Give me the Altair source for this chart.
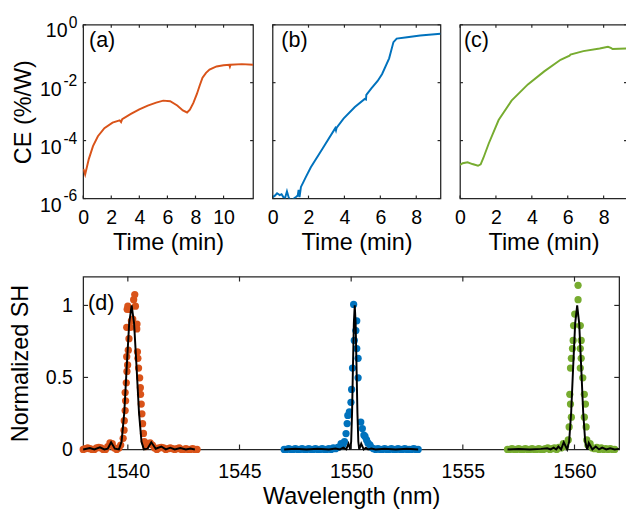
import altair as alt
import pandas as pd

ORANGE, BLUE, GREEN = "#D95319", "#0072BD", "#77AC30"
FONT = "Liberation Sans"
FRAME = "#262626"

# ---------------- top panels: CE (%/W) vs time (log10 of CE)
time_a = [0.02, 0.14, 0.4, 0.7, 1.05, 1.51, 2.09, 2.6, 2.7, 2.78, 3.4, 4.0, 4.6, 5.2, 5.7,
          6.2, 6.7, 7.1, 7.4, 7.6, 7.85, 8.1, 8.3, 8.5, 8.75, 9.0, 9.5, 10.0, 10.4, 10.45,
          10.5, 11.3, 12.1]
log_ce_a = [-4.98, -5.17, -4.64, -4.19, -3.85, -3.57, -3.38, -3.3, -3.36, -3.26, -3.08, -2.92,
            -2.79, -2.69, -2.62, -2.64, -2.79, -2.96, -3.03, -2.93, -2.7, -2.39, -2.1, -1.83,
            -1.66, -1.55, -1.44, -1.4, -1.38, -1.45, -1.38, -1.36, -1.38]

time_b = [0.0, 0.13, 0.25, 0.4, 0.5, 0.6, 0.7, 0.8, 0.9, 1.0, 1.15, 1.3, 1.4, 1.45, 1.5, 1.58,
          1.7, 1.85, 2.13, 2.76, 3.49, 3.53, 3.57, 3.95, 4.58, 5.13, 5.2, 5.22, 5.5, 5.85, 6.1,
          6.49, 6.73, 6.91, 7.49, 8.22, 9.35]
log_ce_b = [-5.95, -5.9, -5.82, -5.88, -5.85, -5.95, -5.97, -5.75, -5.97, -6.05, -6.02, -5.95,
            -5.9, -5.7, -5.95, -5.6, -5.45, -5.26, -4.92, -4.3, -3.57, -3.65, -3.55, -3.24,
            -2.84, -2.56, -2.58, -2.42, -2.2, -1.94, -1.7, -1.16, -0.6, -0.48, -0.43, -0.37,
            -0.31]

time_c = [0.0, 0.15, 0.42, 0.69, 1.0, 1.15, 1.3, 1.6, 2.15, 2.87, 3.78, 4.69, 5.6, 6.1, 6.15,
          6.87, 7.78, 8.24, 8.4, 8.5, 9.27]
log_ce_c = [-4.84, -4.78, -4.75, -4.81, -4.87, -4.82, -4.6, -4.1, -3.29, -2.62, -2.06, -1.61,
            -1.21, -1.07, -1.03, -0.91, -0.82, -0.76, -0.8, -0.84, -0.82]

decade_ce = [1.0, 1e-2, 1e-4, 1e-6]
decade_exp = ["0", "-2", "-4", "-6"]
time_ticks_a = [0, 2, 4, 6, 8, 10]
time_ticks_bc = [0, 2, 4, 6, 8]

# ---------------- bottom panel: normalized SH vs wavelength
orange_base_wl = [1538.0, 1538.1, 1538.2, 1538.3, 1538.4, 1538.5, 1538.6, 1538.7, 1538.8, 1538.9,
                  1539.0, 1539.1, 1539.2, 1539.3, 1539.4, 1539.5, 1539.6,
                  1540.8, 1540.9, 1541.0, 1541.1, 1541.2, 1541.3, 1541.4, 1541.5, 1541.6, 1541.7,
                  1541.8, 1541.9, 1542.0, 1542.1, 1542.2, 1542.3, 1542.4, 1542.5, 1542.6, 1542.7,
                  1542.8, 1542.9, 1543.0, 1543.1]
orange_base_v = [0.0, 0.005, 0.01, 0.005, 0.0, 0.0, 0.01, 0.015, 0.01, 0.0,
                 0.0, 0.02, 0.045, 0.04, 0.01, 0.0, 0.01,
                 0.02, 0.04, 0.045, 0.03, 0.01, 0.0, 0.01, 0.015, 0.01, 0.0,
                 0.005, 0.01, 0.005, 0.0, 0.005, 0.01, 0.0, 0.0, 0.005, 0.0,
                 0.0, 0.005, 0.0, 0.0]
orange_peak_wl = [1539.68, 1539.79, 1539.83, 1539.84, 1539.88, 1539.9, 1539.88, 1539.93, 1539.96,
                  1539.99, 1539.95, 1540.02, 1540.05, 1539.95, 1539.97, 1540.0, 1540.08, 1540.16,
                  1540.12, 1540.22, 1540.26, 1540.31, 1540.34, 1540.41, 1540.4, 1540.43, 1540.45,
                  1540.48, 1540.53, 1540.56, 1540.57, 1540.6, 1540.63, 1540.66, 1540.7, 1540.74]
orange_peak_v = [0.03, 0.077, 0.134, 0.2, 0.27, 0.338, 0.395, 0.463, 0.542, 0.587, 0.644, 0.689,
                 0.769, 0.848, 0.973, 0.995, 0.973, 0.893, 0.848, 0.905, 1.04, 1.075, 0.995,
                 0.871, 0.837, 0.678, 0.633, 0.565, 0.497, 0.429, 0.383, 0.315, 0.247, 0.179,
                 0.111, 0.054]

blue_base_wl = [1547.0, 1547.1, 1547.2, 1547.3, 1547.4, 1547.5, 1547.6, 1547.7, 1547.8, 1547.9,
                1548.0, 1548.1, 1548.2, 1548.3, 1548.4, 1548.5, 1548.6, 1548.7, 1548.8, 1548.9,
                1549.0, 1549.1, 1549.2, 1549.3, 1549.4, 1549.5,
                1550.9, 1551.0, 1551.1, 1551.2, 1551.3, 1551.4, 1551.5, 1551.6, 1551.7, 1551.8,
                1551.9, 1552.0, 1552.1, 1552.2, 1552.3, 1552.4, 1552.5, 1552.6, 1552.7, 1552.8,
                1552.9, 1553.0]
blue_base_v = [0.0, 0.0, 0.005, 0.0, 0.0, 0.005, 0.0, 0.0, 0.005, 0.0,
               0.0, 0.005, 0.0, 0.0, 0.005, 0.0, 0.0, 0.005, 0.0, 0.0,
               0.005, 0.0, 0.01, 0.005, 0.015, 0.02,
               0.015, 0.005, 0.0, 0.005, 0.0, 0.0, 0.005, 0.0, 0.0, 0.005,
               0.0, 0.0, 0.005, 0.0, 0.0, 0.005, 0.0, 0.0, 0.0, 0.005,
               0.0, 0.0]
blue_peak_wl = [1549.55, 1549.63, 1549.7, 1549.77, 1549.82, 1549.85, 1549.92, 1549.99, 1550.02,
                1550.06, 1550.11, 1550.14, 1550.21, 1550.25, 1550.25, 1550.31, 1550.31, 1550.43,
                1550.5, 1550.57, 1550.62, 1550.69, 1550.75, 1550.84]
blue_peak_v = [0.04, 0.032, 0.054, 0.11, 0.18, 0.236, 0.26, 0.327, 0.417, 0.565, 1.007, 0.757,
               0.825, 0.893, 0.70, 0.633, 0.497, 0.19, 0.145, 0.10, 0.09, 0.066, 0.045, 0.032]

green_base_wl = [1557.0, 1557.1, 1557.2, 1557.3, 1557.4, 1557.5, 1557.6, 1557.7, 1557.8, 1557.9,
                 1558.0, 1558.1, 1558.2, 1558.3, 1558.4, 1558.5, 1558.6, 1558.7, 1558.8, 1558.9,
                 1559.0, 1559.1, 1559.2, 1559.3, 1559.4, 1559.5, 1559.6,
                 1560.6, 1560.7, 1560.8, 1560.9, 1561.0, 1561.1, 1561.2, 1561.3, 1561.4, 1561.5,
                 1561.6, 1561.7, 1561.8]
green_base_v = [0.0, 0.0, 0.005, 0.0, 0.0, 0.005, 0.0, 0.0, 0.005, 0.0,
                0.0, 0.005, 0.0, 0.0, 0.005, 0.0, 0.0, 0.005, 0.01, 0.0,
                0.005, 0.01, 0.0, 0.015, 0.01, 0.04, 0.02,
                0.03, 0.04, 0.01, 0.005, 0.015, 0.0, 0.01, 0.0, 0.005, 0.0,
                0.005, 0.0, 0.0]
green_peak_wl = [1559.72, 1559.76, 1559.86, 1559.82, 1559.79, 1559.82, 1559.86, 1559.91, 1559.94,
                 1559.96, 1560.01, 1560.16, 1560.16, 1560.26, 1560.3, 1560.26, 1560.3, 1560.26,
                 1560.37, 1560.44, 1560.49, 1560.44, 1560.52, 1560.55]
green_peak_v = [0.066, 0.156, 0.224, 0.315, 0.383, 0.565, 0.633, 0.70, 0.757, 0.86, 0.94, 1.04,
                1.14, 0.86, 0.757, 0.70, 0.633, 0.565, 0.497, 0.383, 0.315, 0.224, 0.156, 0.066]

orange_fit_wl = [1538.0, 1538.3, 1538.5, 1538.75, 1538.95, 1539.1, 1539.25, 1539.42, 1539.6,
                 1539.72, 1539.84, 1539.95, 1540.06, 1540.17, 1540.28, 1540.39, 1540.5, 1540.61,
                 1540.72, 1540.88, 1541.05, 1541.25, 1541.5, 1541.7, 1541.9, 1542.1, 1542.35,
                 1542.6, 1542.8, 1543.0]
orange_fit_v = [0.0, 0.01, 0.0, 0.015, 0.0, 0.005, 0.05, 0.005, 0.0, 0.055, 0.255, 0.573, 0.875,
                1.0, 0.875, 0.573, 0.255, 0.055, 0.0, 0.005, 0.05, 0.005, 0.02, 0.0, 0.012, 0.0,
                0.01, 0.0, 0.006, 0.0]
blue_fit_wl = [1547.0, 1547.5, 1548.0, 1548.5, 1549.0, 1549.3, 1549.5, 1549.65, 1549.78, 1549.88,
               1549.96, 1550.0, 1550.04, 1550.08, 1550.12, 1550.16, 1550.2, 1550.24, 1550.28,
               1550.32, 1550.36, 1550.45, 1550.56, 1550.66, 1550.76, 1550.9, 1551.1, 1551.5,
               1552.0, 1552.5, 1553.0]
blue_fit_v = [0.0, 0.004, 0.0, 0.005, 0.0, 0.006, 0.0, 0.012, 0.0, 0.04, 0.0, 0.055, 0.255, 0.573,
              0.875, 1.0, 0.875, 0.573, 0.255, 0.055, 0.0, 0.04, 0.0, 0.012, 0.0, 0.006, 0.0,
              0.005, 0.0, 0.004, 0.0]
green_fit_wl = [1557.0, 1557.5, 1558.0, 1558.5, 1558.78, 1558.93, 1559.07, 1559.18, 1559.28,
                1559.4, 1559.52, 1559.67, 1559.76, 1559.85, 1559.94, 1560.03, 1560.12, 1560.21,
                1560.3, 1560.39, 1560.48, 1560.57, 1560.64, 1560.8, 1560.95, 1561.1, 1561.24,
                1561.42, 1561.6, 1561.8, 1562.0]
green_fit_v = [0.0, 0.003, 0.0, 0.004, 0.008, 0.0, 0.012, 0.0, 0.02, 0.0, 0.05, 0.0, 0.055, 0.255,
               0.573, 0.875, 1.0, 0.875, 0.573, 0.255, 0.055, 0.0, 0.045, 0.0, 0.02, 0.0, 0.012,
               0.0, 0.008, 0.0, 0.004]

wl_ticks = [1540, 1545, 1550, 1555, 1560]
sh_ticks = [0, 0.5, 1]

TOP_H = 178
BOT_H = 177


def tick_rules(field, values, x_enc, y_enc, axis_channel, w, h, length):
    """Inward ticks on both sides of the frame, positioned through the panel's scales."""
    df = pd.DataFrame({field: values})
    base = alt.Chart(df).mark_rule(color=FRAME, strokeWidth=1.2)
    if axis_channel == "x":
        return [base.encode(x=x_enc, y=alt.value(h), y2=alt.value(h - length)),
                base.encode(x=x_enc, y=alt.value(0), y2=alt.value(length))]
    return [base.encode(y=y_enc, x=alt.value(0), x2=alt.value(length)),
            base.encode(y=y_enc, x=alt.value(w), x2=alt.value(w - length))]


def top_panel(times, logs, color, label, label_dx, xmax, width, xticks, show_y):
    df = pd.DataFrame({"t": times, "ce": [10 ** v for v in logs]})
    xs = alt.Scale(domain=[0, xmax], nice=False, zero=False)
    ys = alt.Scale(type="log", domain=[1e-6, 1], nice=False)
    x = alt.X("t:Q", scale=xs,
              axis=alt.Axis(values=xticks, format="d", title="Time (min)", labelPadding=10,
                            titlePadding=3, labelFlush=False, labelOverlap=False))
    if show_y:
        y = alt.Y("ce:Q", scale=ys,
                  axis=alt.Axis(labels=False, title="CE (%/W)", titlePadding=49))
    else:
        y = alt.Y("ce:Q", scale=ys, axis=None)
    line = alt.Chart(df).mark_line(color=color, strokeWidth=2, clip=True).encode(x=x, y=y)
    lab = alt.Chart(pd.DataFrame({"s": [label]})).mark_text(
        align="left", baseline="top", font=FONT, fontSize=22, color="black"
    ).encode(x=alt.value(label_dx), y=alt.value(6), text="s:N")
    layers = [line, lab]
    layers += tick_rules("t", xticks, x, y, "x", width, TOP_H, 3)
    layers += tick_rules("ce", decade_ce, x, y, "y", width, TOP_H, 3)
    if show_y:
        tdf = pd.DataFrame({"ce": decade_ce, "base": ["10"] * 4, "exp": decade_exp})
        tb = alt.Chart(tdf)
        base0 = tb.transform_filter("datum.exp == '0'").mark_text(
            align="right", baseline="alphabetic", font=FONT, fontSize=20, dy=13, color="black"
        ).encode(y=y, x=alt.value(-16), text="base:N")
        baseN = tb.transform_filter("datum.exp != '0'").mark_text(
            align="right", baseline="alphabetic", font=FONT, fontSize=20, dy=14, color="black"
        ).encode(y=y, x=alt.value(-22), text="base:N")
        sup = tb.mark_text(
            align="right", baseline="alphabetic", font=FONT, fontSize=16, dy=3, color="black"
        ).encode(y=y, x=alt.value(-6), text="exp:N")
        layers += [base0, baseN, sup]
    return alt.layer(*layers).properties(width=width, height=TOP_H)


pa = top_panel(time_a, log_ce_a, ORANGE, "(a)", 6, 12.1, 174, time_ticks_a, True)
pb = top_panel(time_b, log_ce_b, BLUE, "(b)", 9, 9.35, 172, time_ticks_bc, False)
pc = top_panel(time_c, log_ce_c, GREEN, "(c)", 4, 9.3, 171, time_ticks_bc, False)

dots = pd.concat([
    pd.DataFrame({"wl": orange_base_wl + orange_peak_wl, "sh": orange_base_v + orange_peak_v, "s": "1540"}),
    pd.DataFrame({"wl": blue_base_wl + blue_peak_wl, "sh": blue_base_v + blue_peak_v, "s": "1550"}),
    pd.DataFrame({"wl": green_base_wl + green_peak_wl, "sh": green_base_v + green_peak_v, "s": "1560"}),
])
fits = pd.concat([
    pd.DataFrame({"wl": orange_fit_wl, "sh": orange_fit_v, "s": "1540"}),
    pd.DataFrame({"wl": blue_fit_wl, "sh": blue_fit_v, "s": "1550"}),
    pd.DataFrame({"wl": green_fit_wl, "sh": green_fit_v, "s": "1560"}),
])

D_W = 549
xs_d = alt.Scale(domain=[1538, 1562], nice=False, zero=False)
ys_d = alt.Scale(domain=[0, 1.2], nice=False)
xd = alt.X("wl:Q", scale=xs_d,
           axis=alt.Axis(values=wl_ticks, format="d", title="Wavelength (nm)", labelPadding=13,
                         titlePadding=3, labelFlush=False))
yd = alt.Y("sh:Q", scale=ys_d,
           axis=alt.Axis(values=sh_ticks, format="~g", title="Normalized SH", labelPadding=11,
                         titlePadding=13, labelFlush=False))
dot_layer = alt.Chart(dots).mark_circle(size=55, opacity=1).encode(
    x=xd, y=yd,
    color=alt.Color("s:N", scale=alt.Scale(domain=["1540", "1550", "1560"],
                                           range=[ORANGE, BLUE, GREEN]), legend=None))
fit_layer = alt.Chart(fits).mark_line(color="black", strokeWidth=2).encode(
    x=xd, y=yd, detail="s:N")
lab_d = alt.Chart(pd.DataFrame({"s": ["(d)"]})).mark_text(
    align="left", baseline="top", font=FONT, fontSize=22, color="black"
).encode(x=alt.value(5), y=alt.value(17), text="s:N")
d_layers = [dot_layer, fit_layer, lab_d]
d_layers += tick_rules("wl", wl_ticks, xd, yd, "x", D_W, BOT_H, 5)
d_layers += tick_rules("sh", [0.5, 1], xd, yd, "y", D_W, BOT_H, 5)
pd_ = alt.layer(*d_layers).properties(width=D_W, height=BOT_H)

top_row = alt.hconcat(pa, pb, pc, spacing=11)
chart = alt.vconcat(top_row, pd_, spacing=20).properties(
    padding={"left": 0, "top": 0, "right": -3, "bottom": -1}
).configure_view(stroke=FRAME, strokeWidth=1.3).configure_axis(
    labelFont=FONT, titleFont=FONT, labelFontSize=20, titleFontSize=24,
    titleFontWeight="normal", labelColor="black", titleColor="black",
    grid=False, domain=False, ticks=False
)

chart.save("out.html", embed_options={"renderer": "svg", "actions": False})
